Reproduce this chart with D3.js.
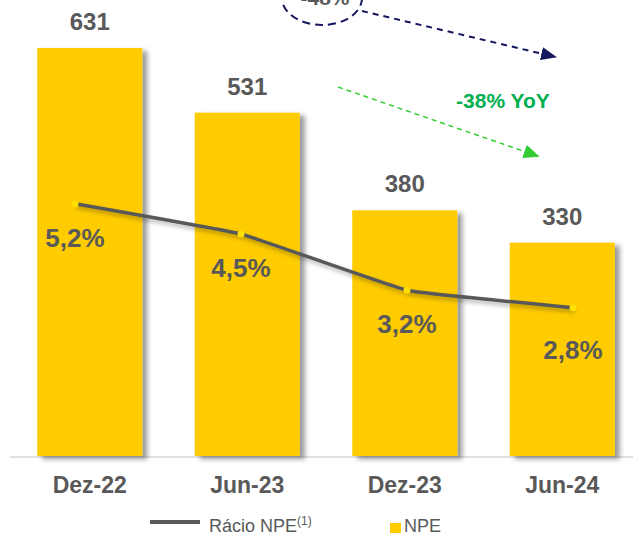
<!DOCTYPE html>
<html>
<head>
<meta charset="utf-8">
<script src="https://cdn.jsdelivr.net/npm/d3@7"></script>
<style>
  body { margin: 0; background: #fff; }
  text { font-family: "Liberation Sans", Arial, sans-serif; }
</style>
</head>
<body>
<script>
// values
const periods = ["Dez-22", "Jun-23", "Dez-23", "Jun-24"];
const npe = [631, 531, 380, 330];
const npeRatio = [5.2, 4.5, 3.2, 2.8];
const legendItems = ["Rácio NPE", "NPE"];
const notes = ["-48%", "-38% YoY"];

const width = 633, height = 536;
const grey = "#595959", yellow = "#FFCC00";

const pt = d3.formatLocale({decimal: ",", thousands: ".", grouping: [3], currency: ["", "€"]});
const pct = v => pt.format(".1f")(v) + "%";

const svg = d3.select("body").append("svg")
    .attr("width", width)
    .attr("height", height);

// shadows
const defs = svg.append("defs");
defs.append("filter").attr("id", "barShadow")
    .attr("x", "-10%").attr("y", "-10%").attr("width", "130%").attr("height", "130%")
  .append("feDropShadow")
    .attr("dx", 5).attr("dy", 3).attr("stdDeviation", 2.5)
    .attr("flood-color", "#000").attr("flood-opacity", 0.4);
defs.append("filter").attr("id", "lineShadow")
    .attr("x", "-10%").attr("y", "-50%").attr("width", "130%").attr("height", "200%")
  .append("feDropShadow")
    .attr("dx", 2).attr("dy", 3).attr("stdDeviation", 2)
    .attr("flood-color", "#000").attr("flood-opacity", 0.3);

function arrowHead(id, color, w, h) {
    defs.append("marker")
        .attr("id", id)
        .attr("viewBox", "0 0 10 10")
        .attr("refX", 1).attr("refY", 5)
        .attr("markerWidth", w).attr("markerHeight", h)
        .attr("markerUnits", "userSpaceOnUse")
        .attr("orient", "auto")
        .attr("preserveAspectRatio", "none")
      .append("path")
        .attr("d", "M0,0 L10,5 L0,10 Z")
        .attr("fill", color);
}
arrowHead("navyHead", "#14175E", 16, 13);
arrowHead("greenHead", "#33CC33", 16, 14);

// scales
const x = d3.scaleBand()
    .domain(periods)
    .range([11, 641])
    .paddingInner(1 / 3)
    .paddingOuter(1 / 6);

const xLine = d3.scalePoint()
    .domain(periods)
    .range([75, 573]);

const y = d3.scaleLinear()
    .domain([0, 631])
    .range([456, 48]);

const yRatio = d3.scaleLinear()
    .domain([0, 6])
    .range([429, 169]);

// baseline
svg.append("line")
    .attr("x1", 10).attr("x2", width)
    .attr("y1", 457).attr("y2", 457)
    .attr("stroke", "#D9D9D9")
    .attr("stroke-width", 1.5);

// bars
svg.selectAll(".bar")
    .data(periods)
    .enter()
    .append("rect")
    .classed("bar", true)
    .attr("x", d => x(d))
    .attr("y", (d, i) => y(npe[i]))
    .attr("width", x.bandwidth())
    .attr("height", (d, i) => y(0) - y(npe[i]))
    .attr("fill", yellow)
    .attr("filter", "url(#barShadow)");

svg.selectAll(".barLabel")
    .data(periods)
    .enter()
    .append("text")
    .classed("barLabel", true)
    .attr("x", d => x(d) + x.bandwidth() / 2)
    .attr("y", (d, i) => y(npe[i]) - 18)
    .attr("text-anchor", "middle")
    .attr("font-size", 24)
    .attr("font-weight", "bold")
    .attr("fill", grey)
    .text((d, i) => npe[i]);

// x labels
svg.selectAll(".xLabel")
    .data(periods)
    .enter()
    .append("text")
    .classed("xLabel", true)
    .attr("x", d => x(d) + x.bandwidth() / 2)
    .attr("y", 493)
    .attr("text-anchor", "middle")
    .attr("font-size", 23)
    .attr("font-weight", "bold")
    .attr("fill", grey)
    .text(d => d);

// ratio line
const line = d3.line()
    .x((d, i) => xLine(periods[i]))
    .y(d => yRatio(d))
    .curve(d3.curveCardinal.tension(0.75));

svg.append("path")
    .datum(npeRatio)
    .attr("d", line)
    .attr("fill", "none")
    .attr("stroke", grey)
    .attr("stroke-width", 3.5)
    .attr("filter", "url(#lineShadow)");

svg.selectAll(".dot")
    .data(npeRatio)
    .enter()
    .append("circle")
    .classed("dot", true)
    .attr("cx", (d, i) => xLine(periods[i]))
    .attr("cy", d => yRatio(d))
    .attr("r", 3.5)
    .attr("fill", "#FFE000");

svg.selectAll(".ratioLabel")
    .data(npeRatio)
    .enter()
    .append("text")
    .classed("ratioLabel", true)
    .attr("x", (d, i) => xLine(periods[i]))
    .attr("y", (d, i) => yRatio(d) + (i === 3 ? 51 : 43))
    .attr("text-anchor", "middle")
    .attr("font-size", 26)
    .attr("font-weight", "bold")
    .attr("fill", grey)
    .text(d => pct(d));

// annotations
svg.append("ellipse")
    .attr("cx", 322).attr("cy", -2)
    .attr("rx", 40).attr("ry", 27)
    .attr("fill", "none")
    .attr("stroke", "#14175E")
    .attr("stroke-width", 2)
    .attr("stroke-dasharray", "8,5");

svg.append("text")
    .attr("x", 325).attr("y", 5)
    .attr("text-anchor", "middle")
    .attr("font-size", 21)
    .attr("font-weight", "bold")
    .attr("fill", grey)
    .text(notes[0]);

svg.append("line")
    .attr("x1", 362).attr("y1", 11)
    .attr("x2", 543).attr("y2", 54)
    .attr("stroke", "#14175E")
    .attr("stroke-width", 2)
    .attr("stroke-dasharray", "6,5")
    .attr("marker-end", "url(#navyHead)");

svg.append("line")
    .attr("x1", 338).attr("y1", 87)
    .attr("x2", 526).attr("y2", 152)
    .attr("stroke", "#33CC33")
    .attr("stroke-width", 1.5)
    .attr("stroke-dasharray", "5,4")
    .attr("marker-end", "url(#greenHead)");

svg.append("text")
    .attr("x", 503).attr("y", 108)
    .attr("text-anchor", "middle")
    .attr("font-size", 21)
    .attr("font-weight", "bold")
    .attr("fill", "#00B050")
    .text(notes[1]);

// legend
const legend = svg.append("g");
legend.append("line")
    .attr("x1", 150).attr("x2", 200)
    .attr("y1", 522).attr("y2", 522)
    .attr("stroke", grey)
    .attr("stroke-width", 4);
const lt = legend.append("text")
    .attr("x", 209).attr("y", 532)
    .attr("font-size", 18)
    .attr("fill", grey)
    .text(legendItems[0]);
lt.append("tspan")
    .attr("font-size", 12)
    .attr("dy", -7)
    .text("(1)");
legend.append("rect")
    .attr("x", 390).attr("y", 523)
    .attr("width", 11).attr("height", 10)
    .attr("fill", yellow);
legend.append("text")
    .attr("x", 404).attr("y", 532)
    .attr("font-size", 18)
    .attr("fill", grey)
    .text(legendItems[1]);
</script>
</body>
</html>
